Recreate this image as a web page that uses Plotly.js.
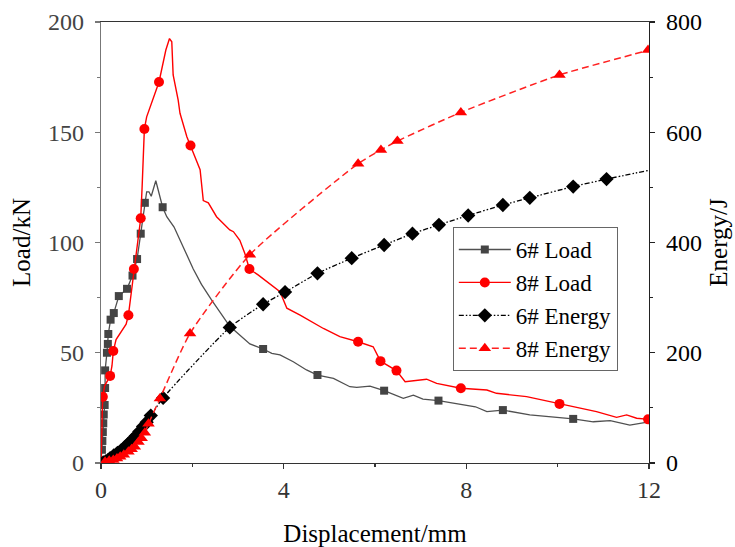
<!DOCTYPE html>
<html>
<head>
<meta charset="utf-8">
<script src="https://cdn.plot.ly/plotly-3.0.1.min.js"></script>
<style>html,body{margin:0;padding:0;background:#fff;}#chart{width:735px;height:547px;}</style>
</head>
<body>
<div id="chart"></div>
<script>
// 6# Load curve (line points) and its marker points
var load6X = [0,0.01,0.02,0.03,0.04,0.05,0.06,0.08,0.09,0.09,0.13,0.15,0.16,0.21,0.28,0.39,0.57,0.69,0.79,0.87,0.9,0.96,1.0,1.05,1.1,1.2,1.28,1.35,1.44,1.6,1.8,2.02,2.2,2.42,2.82,3.26,3.55,3.74,3.92,4.07,4.21,4.5,4.74,5.09,5.45,5.6,5.89,6.2,6.62,6.84,7.05,7.39,8.0,8.2,8.45,8.8,9.39,9.9,10.34,10.78,11.15,11.58,12];
var load6Y = [0,3,6,10,14,18,22,26.3,34,42,50,54,58.5,65,68,75.7,79,85,92.5,104,108,118,123,123,121,128,122,116,111.7,107,98,88,81,74,62,54,51.7,49.7,49,47.5,45.9,42.2,39.9,38.4,34.6,34.3,34.9,32.8,29.3,30.8,29,28.3,26.3,25.5,23.3,24,21.8,20.7,20,18.7,19.2,17.2,18.7];
var load6MX = [0.02,0.03,0.04,0.05,0.06,0.08,0.09,0.09,0.13,0.15,0.16,0.21,0.28,0.39,0.57,0.69,0.79,0.87,0.96,1.35,3.55,4.74,6.2,7.39,8.8,10.34];
var load6MY = [6,10,14,18,22,26.3,34,42,50,54,58.5,65,68,75.7,79,85,92.5,104,118,116,51.7,39.9,32.8,28.3,24,20];

// 8# Load curve and its marker points
var load8X = [0,0.01,0.02,0.03,0.04,0.08,0.15,0.2,0.24,0.27,0.33,0.45,0.55,0.6,0.63,0.68,0.72,0.78,0.83,0.87,0.9,0.93,0.95,1.0,1.15,1.27,1.42,1.5,1.55,1.58,1.69,1.73,1.88,1.96,2.17,2.24,2.35,2.53,2.82,2.9,3.04,3.15,3.25,3.44,3.92,4.07,4.36,4.87,5.23,5.63,5.96,6.12,6.47,6.66,7.13,7.35,7.88,8.45,8.66,9.32,10.04,10.85,11.29,11.51,11.73,12];
var load8Y = [0,5,15,25,30,35,38,39.5,44,50.8,56,60,63,67,72,82,88,97,105,111,125,142,151.5,157,165.4,172.8,187.3,192.5,191,176,164.6,158.6,148,144,133,119,118,111.7,105.7,104.9,101,95,88,85.3,77.7,70.2,67.1,61,57.3,55,52.7,46.2,41.9,36.9,38,36.1,33.9,33.1,31.6,30.1,26.8,23.3,20.7,21.8,20.3,19.8];
var load8MX = [0.04,0.2,0.27,0.6,0.72,0.87,0.95,1.27,1.96,3.25,5.63,6.12,6.47,7.88,10.04,11.98];
var load8MY = [30,39.5,50.8,67,88,111,151.5,172.8,144,88,55,46.2,41.9,33.9,26.8,19.8];

// 6# Energy curve and its marker points
var energy6X = [0,0.05,0.1,0.15,0.2,0.28,0.36,0.44,0.52,0.6,0.68,0.76,0.84,0.92,1.0,1.09,1.36,2.82,3.55,4.03,4.74,5.49,6.2,6.82,7.4,8.04,8.8,9.39,10.34,11.07,12];
var energy6Y = [0,1,3,5,9,14,18.5,23,29,35,42,49,57,66,74,86,118,246,288,310,344,371.5,395.5,416,432,449,468,481,501.5,515,531];
var energy6MX = [0.05,0.1,0.15,0.2,0.28,0.36,0.44,0.52,0.6,0.68,0.76,0.84,0.92,1.0,1.09,1.36,2.82,3.55,4.03,4.74,5.49,6.2,6.82,7.4,8.04,8.8,9.39,10.34,11.07];
var energy6MY = [1,3,5,9,14,18.5,23,29,35,42,49,57,66,74,86,118,246,288,310,344,371.5,395.5,416,432,449,468,481,501.5,515];

// 8# Energy curve and its marker points
var energy8X = [0,0.09,0.18,0.27,0.35,0.42,0.5,0.6,0.67,0.74,0.82,0.89,0.96,1.04,1.29,1.95,3.26,5.63,6.13,6.49,7.88,10.04,11.98,12];
var energy8Y = [0,2.4,4,5.4,8,11.4,15,20.5,25,29.6,38,45,55,71,117,235,378,543,568,584,636,704,749,750];
var energy8MX = [0.09,0.18,0.27,0.35,0.42,0.5,0.6,0.67,0.74,0.82,0.89,0.96,1.04,1.29,1.95,3.26,5.63,6.13,6.49,7.88,10.04,11.98];
var energy8MY = [2.4,4,5.4,8,11.4,15,20.5,25,29.6,38,45,55,71,117,235,378,543,568,584,636,704,749];

var seriesNames = ['6# Load', '8# Load', '6# Energy', '8# Energy'];

var styles = [
  {line: {color: '#505050', width: 1.3}, marker: {symbol: 'square', size: 8, color: '#444444'}},
  {line: {color: '#ff0000', width: 1.4}, marker: {symbol: 'circle', size: 10, color: '#ff0000'}},
  {line: {color: '#000000', width: 1.3, dash: '5px,2px,1.5px,2px,1.5px,2px'}, marker: {symbol: 'diamond', size: 11, color: '#000000'}},
  {line: {color: '#ff2020', width: 1.5, dash: '7px,4px'}, marker: {symbol: 'triangle-up', size: 11, color: '#ff0000'}}
];

var lines = [[load6X, load6Y, 'y', 'linear'], [load8X, load8Y, 'y', 'linear'], [energy6X, energy6Y, 'y2', 'spline'], [energy8X, energy8Y, 'y2', 'spline']];
var marks = [[load6MX, load6MY, 'y'], [load8MX, load8MY, 'y'], [energy6MX, energy6MY, 'y2'], [energy8MX, energy8MY, 'y2']];

var traces = [];
for (var i = 0; i < 4; i++) {
  var ln = Object.assign({}, styles[i].line);
  traces.push({x: lines[i][0], y: lines[i][1], yaxis: lines[i][2], type: 'scatter', mode: 'lines',
    line: Object.assign(ln, {shape: lines[i][3], smoothing: 0.6}), showlegend: false, hoverinfo: 'skip'});
  traces.push({x: marks[i][0], y: marks[i][1], yaxis: marks[i][2], type: 'scatter', mode: 'markers',
    marker: styles[i].marker, showlegend: false, hoverinfo: 'skip'});
}
// legend entries (line + marker sample)
for (var j = 0; j < 4; j++) {
  traces.push({x: [null], y: [null], yaxis: j < 2 ? 'y' : 'y2', type: 'scatter', mode: 'lines+markers',
    name: seriesNames[j], line: styles[j].line, marker: styles[j].marker, showlegend: true});
}

var serif = 'Liberation Serif, Times New Roman, serif';
var layout = {
  width: 735, height: 547,
  margin: {l: 101, r: 86, t: 22, b: 84},
  paper_bgcolor: '#ffffff', plot_bgcolor: '#ffffff',
  font: {family: serif, color: '#000'},
  showlegend: true,
  legend: {x: 0.642, y: 0.535, xanchor: 'left', yanchor: 'top', bgcolor: '#ffffff',
    bordercolor: '#666666', borderwidth: 1, font: {family: serif, size: 23, color: '#000'},
    tracegroupgap: 0, itemwidth: 52},
  xaxis: {range: [0, 12], tick0: 0, dtick: 4, ticks: 'outside', ticklen: 5, tickwidth: 1.2, tickcolor: '#333',
    showline: true, linecolor: '#333', linewidth: 1.3, mirror: true, showgrid: false, zeroline: false,
    tickfont: {family: serif, size: 24, color: '#333'},
    minor: {dtick: 2, ticks: 'outside', ticklen: 3, tickcolor: '#333', showgrid: false},
    title: {text: 'Displacement/mm', font: {family: serif, size: 25, color: '#000'}, standoff: 22}},
  yaxis: {range: [0, 200], tick0: 0, dtick: 50, ticks: 'outside', ticklen: 5, tickwidth: 1.2, tickcolor: '#777',
    showline: true, linecolor: '#777', linewidth: 1.3, showgrid: false, zeroline: false,
    tickfont: {family: serif, size: 24, color: '#444'}, ticklabelstandoff: 6,
    minor: {dtick: 25, ticks: 'outside', ticklen: 3, tickcolor: '#777', showgrid: false},
    title: {text: 'Load/kN', font: {family: serif, size: 25, color: '#000'}, standoff: 10}},
  yaxis2: {range: [0, 800], tick0: 0, dtick: 200, overlaying: 'y', side: 'right', ticks: 'outside', ticklen: 5,
    tickwidth: 1.2, tickcolor: '#222', showline: true, linecolor: '#222', linewidth: 1.3, showgrid: false,
    zeroline: false, tickfont: {family: serif, size: 24, color: '#000'}, ticklabelstandoff: 6,
    minor: {dtick: 100, ticks: 'outside', ticklen: 3, tickcolor: '#222', showgrid: false},
    title: {text: 'Energy/J', font: {family: serif, size: 25, color: '#000'}, standoff: 8}}
};

Plotly.newPlot('chart', traces, layout, {displayModeBar: false, staticPlot: true});
</script>
</body>
</html>
